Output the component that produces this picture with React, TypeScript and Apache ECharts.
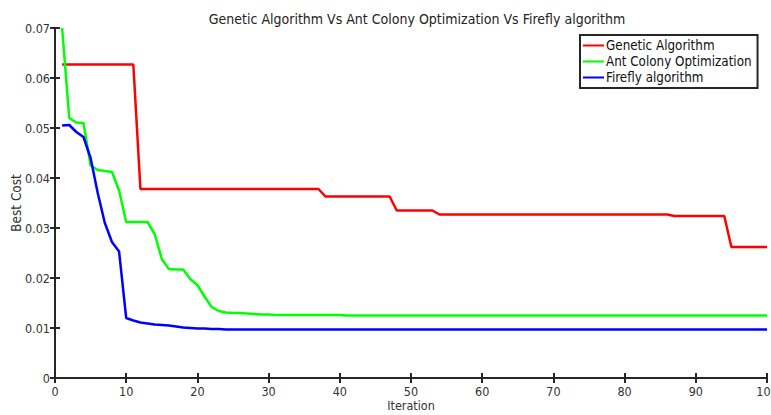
import React, { useEffect, useRef } from "react";
import * as echarts from "echarts";

const iterations: number[] = Array.from({ length: 100 }, (_, i) => i + 1);

const gaValues: number[] = [
  0.0627, 0.0627, 0.0627, 0.0627, 0.0627, 0.0627, 0.0627, 0.0627, 0.0627, 0.0627,
  0.0627, 0.0378, 0.0378, 0.0378, 0.0378, 0.0378, 0.0378, 0.0378, 0.0378, 0.0378,
  0.0378, 0.0378, 0.0378, 0.0378, 0.0378, 0.0378, 0.0378, 0.0378, 0.0378, 0.0378,
  0.0378, 0.0378, 0.0378, 0.0378, 0.0378, 0.0378, 0.0378, 0.0363, 0.0363, 0.0363,
  0.0363, 0.0363, 0.0363, 0.0363, 0.0363, 0.0363, 0.0363, 0.0335, 0.0335, 0.0335,
  0.0335, 0.0335, 0.0335, 0.0327, 0.0327, 0.0327, 0.0327, 0.0327, 0.0327, 0.0327,
  0.0327, 0.0327, 0.0327, 0.0327, 0.0327, 0.0327, 0.0327, 0.0327, 0.0327, 0.0327,
  0.0327, 0.0327, 0.0327, 0.0327, 0.0327, 0.0327, 0.0327, 0.0327, 0.0327, 0.0327,
  0.0327, 0.0327, 0.0327, 0.0327, 0.0327, 0.0327, 0.0324, 0.0324, 0.0324, 0.0324,
  0.0324, 0.0324, 0.0324, 0.0324, 0.0262, 0.0262, 0.0262, 0.0262, 0.0262, 0.0262,
];

const acoValues: number[] = [
  0.0700, 0.0520, 0.0511, 0.0510, 0.0425, 0.0416, 0.0414, 0.0412, 0.0375, 0.0312,
  0.0312, 0.0312, 0.0312, 0.0288, 0.0238, 0.0218, 0.0217, 0.0217, 0.0198, 0.0186,
  0.0163, 0.0142, 0.0134, 0.0131, 0.0130, 0.0130, 0.0129, 0.0128, 0.0127, 0.0127,
  0.0126, 0.0126, 0.0126, 0.0126, 0.0126, 0.0126, 0.0126, 0.0126, 0.0126, 0.0126,
  0.0125, 0.0125, 0.0125, 0.0125, 0.0125, 0.0125, 0.0125, 0.0125, 0.0125, 0.0125,
  0.0125, 0.0125, 0.0125, 0.0125, 0.0125, 0.0125, 0.0125, 0.0125, 0.0125, 0.0125,
  0.0125, 0.0125, 0.0125, 0.0125, 0.0125, 0.0125, 0.0125, 0.0125, 0.0125, 0.0125,
  0.0125, 0.0125, 0.0125, 0.0125, 0.0125, 0.0125, 0.0125, 0.0125, 0.0125, 0.0125,
  0.0125, 0.0125, 0.0125, 0.0125, 0.0125, 0.0125, 0.0125, 0.0125, 0.0125, 0.0125,
  0.0125, 0.0125, 0.0125, 0.0125, 0.0125, 0.0125, 0.0125, 0.0125, 0.0125, 0.0125,
];

const faValues: number[] = [
  0.0505, 0.0506, 0.0492, 0.0482, 0.0440, 0.0370, 0.0310, 0.0272, 0.0253, 0.0120,
  0.0115, 0.0111, 0.0109, 0.0107, 0.0106, 0.0105, 0.0103, 0.0101, 0.0100, 0.0099,
  0.0099, 0.0098, 0.0098, 0.0097, 0.0097, 0.0097, 0.0097, 0.0097, 0.0097, 0.0097,
  0.0097, 0.0097, 0.0097, 0.0097, 0.0097, 0.0097, 0.0097, 0.0097, 0.0097, 0.0097,
  0.0097, 0.0097, 0.0097, 0.0097, 0.0097, 0.0097, 0.0097, 0.0097, 0.0097, 0.0097,
  0.0097, 0.0097, 0.0097, 0.0097, 0.0097, 0.0097, 0.0097, 0.0097, 0.0097, 0.0097,
  0.0097, 0.0097, 0.0097, 0.0097, 0.0097, 0.0097, 0.0097, 0.0097, 0.0097, 0.0097,
  0.0097, 0.0097, 0.0097, 0.0097, 0.0097, 0.0097, 0.0097, 0.0097, 0.0097, 0.0097,
  0.0097, 0.0097, 0.0097, 0.0097, 0.0097, 0.0097, 0.0097, 0.0097, 0.0097, 0.0097,
  0.0097, 0.0097, 0.0097, 0.0097, 0.0097, 0.0097, 0.0097, 0.0097, 0.0097, 0.0097,
];

const seriesNames: string[] = ["Genetic Algorithm", "Ant Colony Optimization", "Firefly algorithm"];
const seriesColors: string[] = ["#ff0000", "#00ff00", "#0000ff"];

const FONT = "'DejaVu Sans Condensed', 'Liberation Sans Narrow', sans-serif";
const AXIS_COLOR = "#262626";

export default function App() {
  const ref = useRef<HTMLDivElement>(null);
  useEffect(() => {
    if (!ref.current) return;
    const chart = echarts.init(ref.current, undefined, { renderer: "svg" });
    const allData = [gaValues, acoValues, faValues];
    const baseAxisLine = { show: true, lineStyle: { color: AXIS_COLOR, width: 2 } };
    const tick = { show: true, inside: true, length: 5, lineStyle: { color: AXIS_COLOR, width: 2 } };
    chart.setOption({
      animation: false,
      backgroundColor: "#ffffff",
      title: {
        text: "Genetic Algorithm Vs Ant Colony Optimization Vs Firefly algorithm",
        left: 412,
        textAlign: "center",
        top: 7,
        textStyle: { fontFamily: FONT, fontSize: 14, fontWeight: "normal", color: "#222" },
      },
      legend: {
        orient: "vertical",
        left: 580,
        top: 35,
        width: 178,
        itemWidth: 21,
        itemHeight: 2,
        itemGap: 3,
        icon: "rect",
        padding: [4, 6, 4, 3],
        borderColor: AXIS_COLOR,
        borderWidth: 2,
        backgroundColor: "#ffffff",
        textStyle: { fontFamily: FONT, fontSize: 13.3, color: "#111", padding: [0, 0, 0, -3] },
        data: seriesNames,
      },
      grid: { left: 55, right: 4, top: 28, bottom: 37, outerBoundsMode: "none", containLabel: false },
      xAxis: [
        {
          type: "value",
          min: 0,
          max: 100,
          interval: 10,
          position: "bottom",
          name: "Iteration",
          nameLocation: "middle",
          nameGap: 21,
          nameMoveOverlap: false,
          nameTextStyle: { fontFamily: FONT, fontSize: 12.5, color: "#333" },
          axisLine: baseAxisLine,
          axisTick: tick,
          axisLabel: { fontFamily: FONT, fontSize: 12.5, color: "#333", margin: 7 },
          splitLine: { show: false },
        },
        {
          type: "value",
          min: 0,
          max: 100,
          interval: 10,
          position: "top",
          axisLine: baseAxisLine,
          axisTick: tick,
          axisLabel: { show: false },
          splitLine: { show: false },
        },
      ],
      yAxis: [
        {
          type: "value",
          min: 0,
          max: 0.07,
          interval: 0.01,
          position: "left",
          name: "Best Cost",
          nameLocation: "middle",
          nameGap: 32,
          nameMoveOverlap: false,
          nameTextStyle: { fontFamily: FONT, fontSize: 13.5, color: "#333" },
          axisLine: baseAxisLine,
          axisTick: tick,
          axisLabel: {
            fontFamily: FONT,
            fontSize: 12.5,
            color: "#333",
            margin: 5,
            formatter: (v: number) => (v === 0 ? "0" : v.toFixed(2)),
          },
          splitLine: { show: false },
        },
        {
          type: "value",
          min: 0,
          max: 0.07,
          interval: 0.01,
          position: "right",
          axisLine: baseAxisLine,
          axisTick: tick,
          axisLabel: { show: false },
          splitLine: { show: false },
        },
      ],
      series: seriesNames.map((name, i) => ({
        name,
        type: "line",
        xAxisIndex: 0,
        yAxisIndex: 0,
        data: iterations.map((it, j) => [it, allData[i][j]]),
        symbol: "none",
        lineStyle: { color: seriesColors[i], width: 2.5 },
        itemStyle: { color: seriesColors[i] },
        z: 3 + i,
      })),
    });
    return () => chart.dispose();
  }, []);
  return (
    <div
      ref={ref}
      style={{ position: "absolute", left: 0, top: 0, width: 771, height: 415, overflow: "hidden" }}
    />
  );
}
